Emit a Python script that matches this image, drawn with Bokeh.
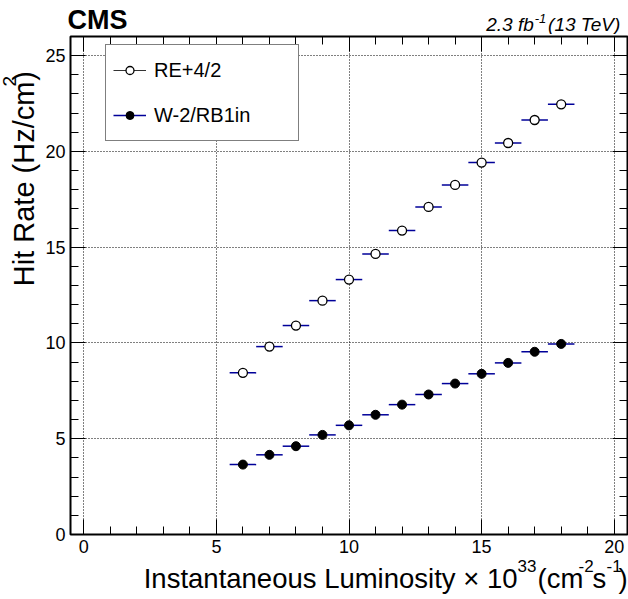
import math
from bokeh.plotting import figure
from bokeh.layouts import column, row
from bokeh.models import (ColumnDataSource, Range1d, LinearAxis, FixedTicker,
                          Legend, LegendItem)
from bokeh.core.properties import value
from bokeh.embed import file_html
from bokeh.resources import INLINE

# ---------------- data ----------------
lumi = [6, 7, 8, 9, 10, 11, 12, 13, 14, 15, 16, 17, 18]
lumi_half_bin = 0.5
re42_rate = [8.44, 9.81, 10.91, 12.21, 13.31, 14.65, 15.87, 17.10, 18.25, 19.42, 20.44, 21.64, 22.46]
w2rb1in_rate = [3.65, 4.16, 4.61, 5.20, 5.70, 6.25, 6.78, 7.31, 7.88, 8.39, 8.96, 9.54, 9.95]
series_labels = ["RE+4/2", "W-2/RB1in"]
x_major = [0, 5, 10, 15, 20]
x_minor = list(range(0, 21))
y_major = [0, 5, 10, 15, 20, 25]
y_minor = list(range(0, 27))

FONT = "Liberation Sans"
W, H = 628, 599
TOP_H = 34          # strip with CMS / luminosity text
LEFT_W = 42         # strip with the y-axis title
SPLIT = 558         # canvas y where the x-title strip starts
MAIN_W = W - LEFT_W
MAIN_H = SPLIT - TOP_H
ML, MR, MT, MB = 26, 1, 2, 24   # main borders -> frame 559 x 498
FRAME_LEFT = LEFT_W + ML        # 68
FRAME_BOTTOM = SPLIT - MB       # 534

# ---------------- main plot ----------------
p = figure(width=MAIN_W, height=MAIN_H, x_range=Range1d(-0.5, 20.5), y_range=Range1d(0, 26),
           output_backend="svg", toolbar_location=None, title=None,
           min_border_left=ML, min_border_right=MR,
           min_border_top=MT, min_border_bottom=MB)
p.outline_line_color = "black"
p.outline_line_width = 2
p.background_fill_color = "white"
p.border_fill_color = "white"

xt = FixedTicker(ticks=x_major, minor_ticks=x_minor)
yt = FixedTicker(ticks=y_major, minor_ticks=y_minor)


def style_axis(ax, ticker, labels=True):
    ax.ticker = ticker
    ax.major_tick_in = 15
    ax.major_tick_out = 0
    ax.minor_tick_in = 8
    ax.minor_tick_out = 0
    ax.major_tick_line_color = "black"
    ax.minor_tick_line_color = "black"
    ax.axis_line_color = None
    ax.major_label_text_font = FONT
    if labels:
        ax.major_label_text_color = "black"
        ax.major_label_text_font_size = "18px"
        ax.major_label_standoff = 5
    else:
        ax.major_label_text_color = None
        ax.major_label_text_font_size = "0px"
        ax.major_label_standoff = 0


style_axis(p.xaxis[0], xt)
style_axis(p.yaxis[0], yt)
top_ax = LinearAxis()
style_axis(top_ax, xt, labels=False)
right_ax = LinearAxis()
style_axis(right_ax, yt, labels=False)
p.add_layout(top_ax, "above")
p.add_layout(right_ax, "right")

p.xgrid.ticker = xt
p.ygrid.ticker = yt
for g in (p.xgrid, p.ygrid):
    g.grid_line_color = "black"
    g.grid_line_dash = "1 2"
    g.grid_line_width = 1

lo = [v - lumi_half_bin for v in lumi]
hi = [v + lumi_half_bin for v in lumi]
src_re = ColumnDataSource(dict(x=lumi, y=re42_rate, x0=lo, x1=hi))
src_w = ColumnDataSource(dict(x=lumi, y=w2rb1in_rate, x0=lo, x1=hi))

BAR = "#000099"
re_bar = p.segment(x0="x0", y0="y", x1="x1", y1="y", source=src_re, line_color=BAR, line_width=1.5)
w_bar = p.segment(x0="x0", y0="y", x1="x1", y1="y", source=src_w, line_color=BAR, line_width=1.5)
re_pt = p.scatter("x", "y", source=src_re, marker="circle", size=9,
                  fill_color="white", line_color="black", line_width=1.3)
w_pt = p.scatter("x", "y", source=src_w, marker="circle", size=9,
                 fill_color="black", line_color="black", line_width=1)
# NaN-only line: draws nothing in the plot, gives the grey legend sample line
re_leg_line = p.line(x=[float("nan")], y=[float("nan")], line_color="#333333", line_width=1)

legend = Legend(items=[LegendItem(label=series_labels[0], renderers=[re_leg_line, re_pt]),
                       LegendItem(label=series_labels[1], renderers=[w_bar, w_pt])],
                location=(103 - FRAME_LEFT, FRAME_BOTTOM - 141), orientation="vertical",
                padding=7, margin=0, spacing=9, glyph_width=33, glyph_height=20,
                label_standoff=8, label_width=137, label_height=36,
                label_text_font=FONT, label_text_font_size="20px",
                label_text_color="black",
                border_line_color="black", border_line_width=1,
                background_fill_color="white", background_fill_alpha=1.0)
p.add_layout(legend)


# ---------------- text strips (coordinates = canvas pixels) ----------------
def strip(x0, x1, ytop, ybot):
    f = figure(width=x1 - x0, height=ybot - ytop,
               x_range=Range1d(x0, x1), y_range=Range1d(H - ybot, H - ytop),
               output_backend="svg", toolbar_location=None, title=None,
               x_axis_location=None, y_axis_location=None, min_border=0)
    f.grid.visible = False
    f.outline_line_color = None
    f.background_fill_color = "white"
    f.border_fill_color = "white"
    return f


BASE_SHIFT = 0.35   # observed offset of the rendered baseline, in em
ALONG_SHIFT = 0.44  # observed shift along the text direction for rotated text, in em


def txt(f, s, X, Y, size, style="normal", align="left", angle=0.0):
    # (X, Y): wanted baseline start in canvas pixels from the top-left
    ax = X - BASE_SHIFT * size * math.sin(angle)
    ay = Y - BASE_SHIFT * size * math.cos(angle) + ALONG_SHIFT * size * math.sin(angle)
    f.text(x=[ax], y=[H - ay], text=[s], text_font=value(FONT),
           text_font_size=value(f"{size}px"), text_font_style=value(style),
           text_color="black", text_align=value(align),
           text_baseline=value("alphabetic"), angle=angle)


AW = {" ": 278, "(": 333, ")": 333, "-": 333, ".": 278, "/": 278,
      "0": 556, "1": 556, "2": 556, "3": 556,
      "H": 722, "R": 722, "T": 611, "V": 667, "a": 556, "b": 556, "c": 500,
      "e": 556, "f": 278, "i": 222, "m": 833, "t": 278, "z": 500}


def tw(s, size):
    return sum(AW.get(ch, 556) for ch in s) / 1000.0 * size


top = strip(0, W, 0, TOP_H)
txt(top, "CMS", 67, 29, 27, style="bold")
F1, S1 = 19, 13
xe = 625
txt(top, " (13 TeV)", xe, 31, F1, style="italic", align="right")
xe -= tw(" (13 TeV)", F1)
txt(top, "-1", xe, 23, S1, style="italic", align="right")
xe -= tw("-1", S1) + 1
txt(top, "2.3 fb", xe, 31, F1, style="italic", align="right")

left = strip(0, LEFT_W, TOP_H, SPLIT)
FY, SY = 29, 19
bx = 34
y0 = 284
txt(left, "Hit Rate (Hz/cm", bx, y0, FY, angle=math.pi / 2)
y1 = y0 - tw("Hit Rate (Hz/cm", FY)
txt(left, "2", bx - 18, y1 - 1, SY, angle=math.pi / 2)
y2 = y1 - tw("2", SY) - 1
txt(left, ")", bx, y2, FY, angle=math.pi / 2)

bottom = strip(0, W, SPLIT, H)
FX, SX = 27.5, 17
BX = 588
txt(bottom, "Instantaneous Luminosity × 10", 517, BX, FX, align="right")
txt(bottom, "33", 517, BX - 17, SX)
txt(bottom, "(cm", 537, BX, FX)
txt(bottom, "-2", 578, BX - 17, SX)
txt(bottom, "s", 592, BX, FX)
txt(bottom, "-1", 606, BX - 17, SX)
txt(bottom, ")", 618, BX, FX)

layout = column(top, row(left, p, spacing=0), bottom, spacing=0)
open("out.html", "w").write(file_html(layout, INLINE))
